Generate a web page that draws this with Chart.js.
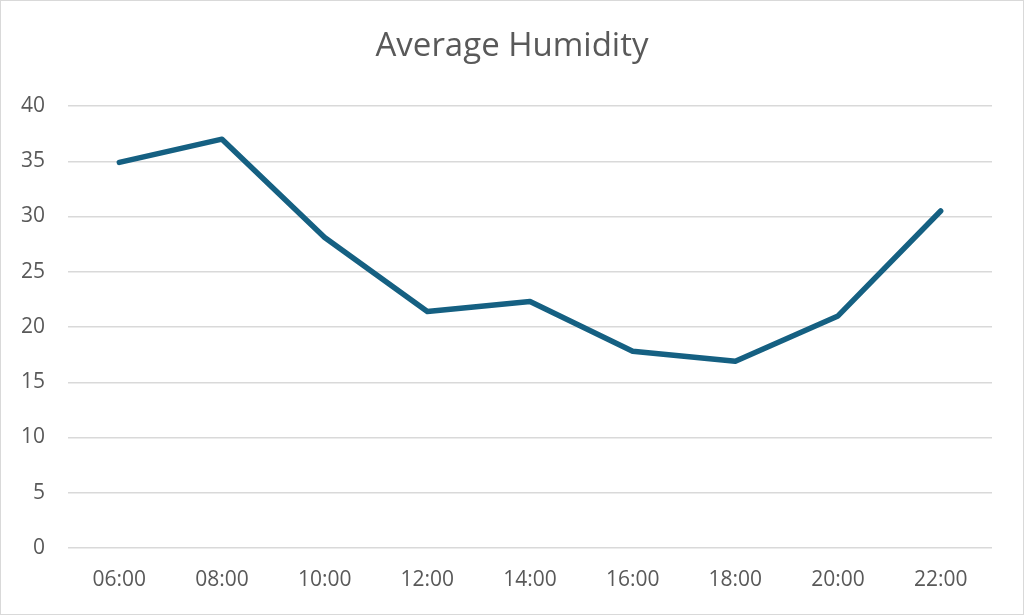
<!DOCTYPE html>
<html>
<head>
<meta charset="utf-8">
<script src="https://cdn.jsdelivr.net/npm/chart.js@4"></script>
<style>
  body { margin: 0; background: #fff; }
  #wrap { width: 1024px; height: 615px; box-sizing: border-box; border: 1px solid #d9d9d9; }
</style>
</head>
<body>
<div id="wrap"><canvas id="chart" width="1022" height="613"></canvas></div>
<script>
const hours = ["06:00", "08:00", "10:00", "12:00", "14:00", "16:00", "18:00", "20:00", "22:00"];
const humidity = [34.9, 37.0, 28.1, 21.4, 22.3, 17.8, 16.9, 21.0, 30.5];
const titleText = "Average Humidity";

const fontFam = "'Open Sans', 'Liberation Sans', sans-serif";
const gray = "#595959";

const ctx = document.getElementById("chart");
new Chart(ctx, {
  type: "line",
  data: {
    labels: hours,
    datasets: [
      {
        label: "Humidity",
        data: humidity,
        borderColor: "#156082",
        borderWidth: 5.5,
        pointRadius: 0,
        tension: 0,
        borderCapStyle: "round",
        borderJoinStyle: "round",
        yAxisID: "y",
      },
    ],
  },
  options: {
    responsive: false,
    animation: false,
    plugins: {
      legend: { display: false },
      tooltip: { enabled: false },
      title: {
        display: true,
        text: titleText,
        color: gray,
        font: { family: fontFam, size: 33, weight: "normal", lineHeight: 1.2 },
        padding: { top: 26, bottom: 39.4 },
      },
    },
    scales: {
      x: {
        offset: true,
        grid: { display: false, drawTicks: false },
        border: { display: false },
        ticks: { color: gray, padding: 19, font: { family: fontFam, size: 21 } },
        afterFit: (scale) => { scale.height = 66; },
      },
      y: {
        min: 0,
        max: 40,
        grid: { color: "#d9d9d9", lineWidth: 1.4, drawTicks: false },
        border: { display: false },
        ticks: { stepSize: 5, color: gray, padding: 23, font: { family: fontFam, size: 21 } },
        afterFit: (scale) => { scale.width = 67; },
      },
      // empty axis on the right, only to keep the plot off the right edge
      // while the title stays centred on the whole page
      spacer: {
        position: "right",
        min: 0,
        max: 40,
        grid: { display: false, drawTicks: false },
        border: { display: false },
        ticks: { display: false },
        afterFit: (scale) => { scale.width = 31; },
      },
    },
  },
});
</script>
</body>
</html>
